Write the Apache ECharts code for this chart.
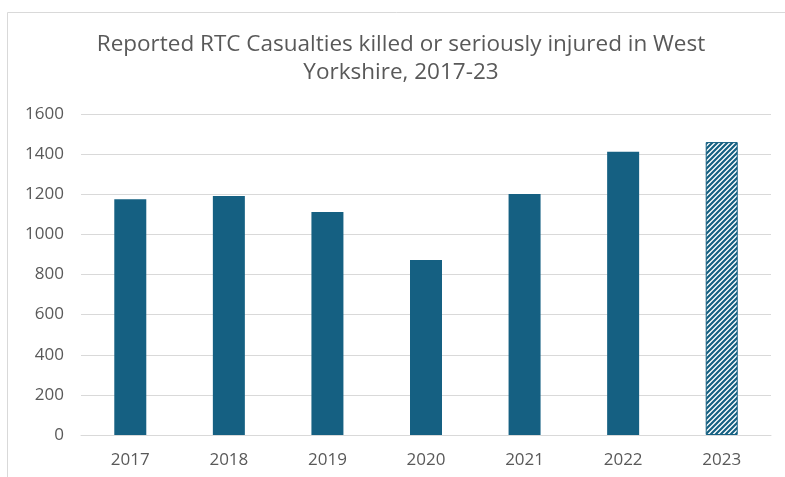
<!DOCTYPE html>
<html><head><meta charset="utf-8">
<script src="https://cdn.jsdelivr.net/npm/echarts@6/dist/echarts.min.js"></script>
<style>html,body{margin:0;padding:0;background:#fff}#c{width:785px;height:477px}</style>
</head><body><div id="c"></div>
<script>
const categories = ['2017','2018','2019','2020','2021','2022','2023'];
const casualties = [1175, 1191, 1111, 872, 1201, 1412, 1460];
const provisionalYear = '2023';
const titleLines = ['Reported RTC Casualties killed or seriously injured in West', 'Yorkshire, 2017-23'];

const barColor = '#156082';
function hatch() {
  const p = 5, cv = document.createElement('canvas');
  cv.width = p; cv.height = p;
  const g = cv.getContext('2d');
  g.fillStyle = '#fff'; g.fillRect(0,0,p,p);
  g.strokeStyle = barColor; g.lineWidth = 2.2;
  g.beginPath();
  g.moveTo(-1, p+1); g.lineTo(p+1, -1);
  g.moveTo(-1, 1); g.lineTo(1, -1);
  g.moveTo(p-1, p+1); g.lineTo(p+1, p-1);
  g.stroke();
  return cv;
}
const pattern = hatch();

const chart = echarts.init(document.getElementById('c'), null, {renderer:'canvas'});
chart.setOption({
  animation: false,
  backgroundColor: '#fff',
  textStyle: {fontFamily: 'Open Sans'},
  title: {
    text: titleLines.join('\n'),
    left: 396, top: 26,
    textAlign: 'center',
    textStyle: {fontFamily: 'Open Sans', fontSize: 22.5, fontWeight: 'normal', color: '#595959', lineHeight: 28}
  },
  graphic: [{
    type: 'polyline', silent: true,
    shape: {points: [[7.5, 477], [7.5, 12.5], [785, 12.5]]},
    style: {stroke: '#d9d9d9', lineWidth: 1, fill: null}
  }],
  grid: {left: 81, right: 14, top: 114, bottom: 42, containLabel: false},
  xAxis: {
    type: 'category', data: categories,
    axisLine: {lineStyle: {color: '#d9d9d9'}},
    axisTick: {show: false},
    axisLabel: {color: '#595959', fontSize: 17, margin: 17}
  },
  yAxis: {
    type: 'value', min: 0, max: 1600, interval: 200,
    axisLine: {show: false}, axisTick: {show: false},
    splitLine: {lineStyle: {color: '#d9d9d9'}},
    axisLabel: {color: '#595959', fontSize: 17, margin: 17, formatter: v => String(v)}
  },
  series: [{
    type: 'bar', barWidth: 32,
    data: casualties.map((v, i) => categories[i] === provisionalYear
      ? {value: v, itemStyle: {color: {image: pattern, repetition: 'repeat'}, borderColor: barColor, borderWidth: 1}}
      : {value: v, itemStyle: {color: barColor}})
  }]
});
</script></body></html>
